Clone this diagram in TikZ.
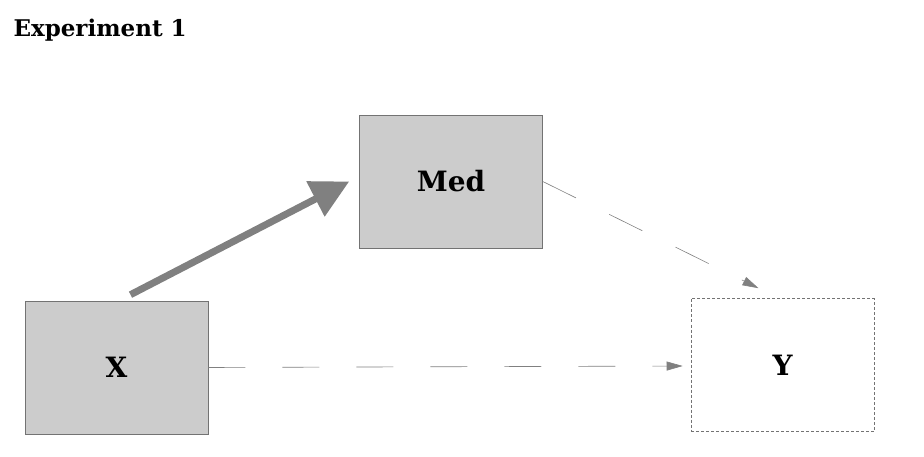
\documentclass[tikz,border=0pt]{standalone}
\usepackage{fontspec}
\setmainfont{DejaVu Serif}
\usetikzlibrary{arrows.meta,calc}
\begin{document}
\begin{tikzpicture}[x=1pt,y=-1pt,
  box/.style={draw=gray!90!black,line width=0.6pt,fill=black!20,minimum width=183pt,minimum height=133pt,inner sep=0pt,font=\bfseries\fontsize{28}{30}\selectfont},
  dbox/.style={box,fill=white,dashed,dash pattern=on 3pt off 2pt},
  dline/.style={draw=gray,line width=0.6pt,dash pattern=on 37pt off 37pt,-{Triangle[length=16pt,width=9pt,fill=gray]}}]
\useasboundingbox (0,0) rectangle (924,457);
\node[anchor=west,font=\bfseries\fontsize{23}{25}\selectfont] (title) at (10,30) {Experiment 1};
\node[box] (med) at (451,181.5) {Med};
\node[box] (x) at (116.5,367.5) {X};
\node[dbox] (y) at (782.5,365) {Y};
\draw[gray,line width=7pt,-{Triangle[length=38pt,width=38pt]}] ($(x.north)+(14,-6)$) -- ($(med.west)+(-10,0)$);
\draw[dline] (med.east) -- ($(y.north)+(-24,-10)$);
\draw[dline] (x.east) -- ($(y.west)+(-8,1)$);
\end{tikzpicture}
\end{document}
